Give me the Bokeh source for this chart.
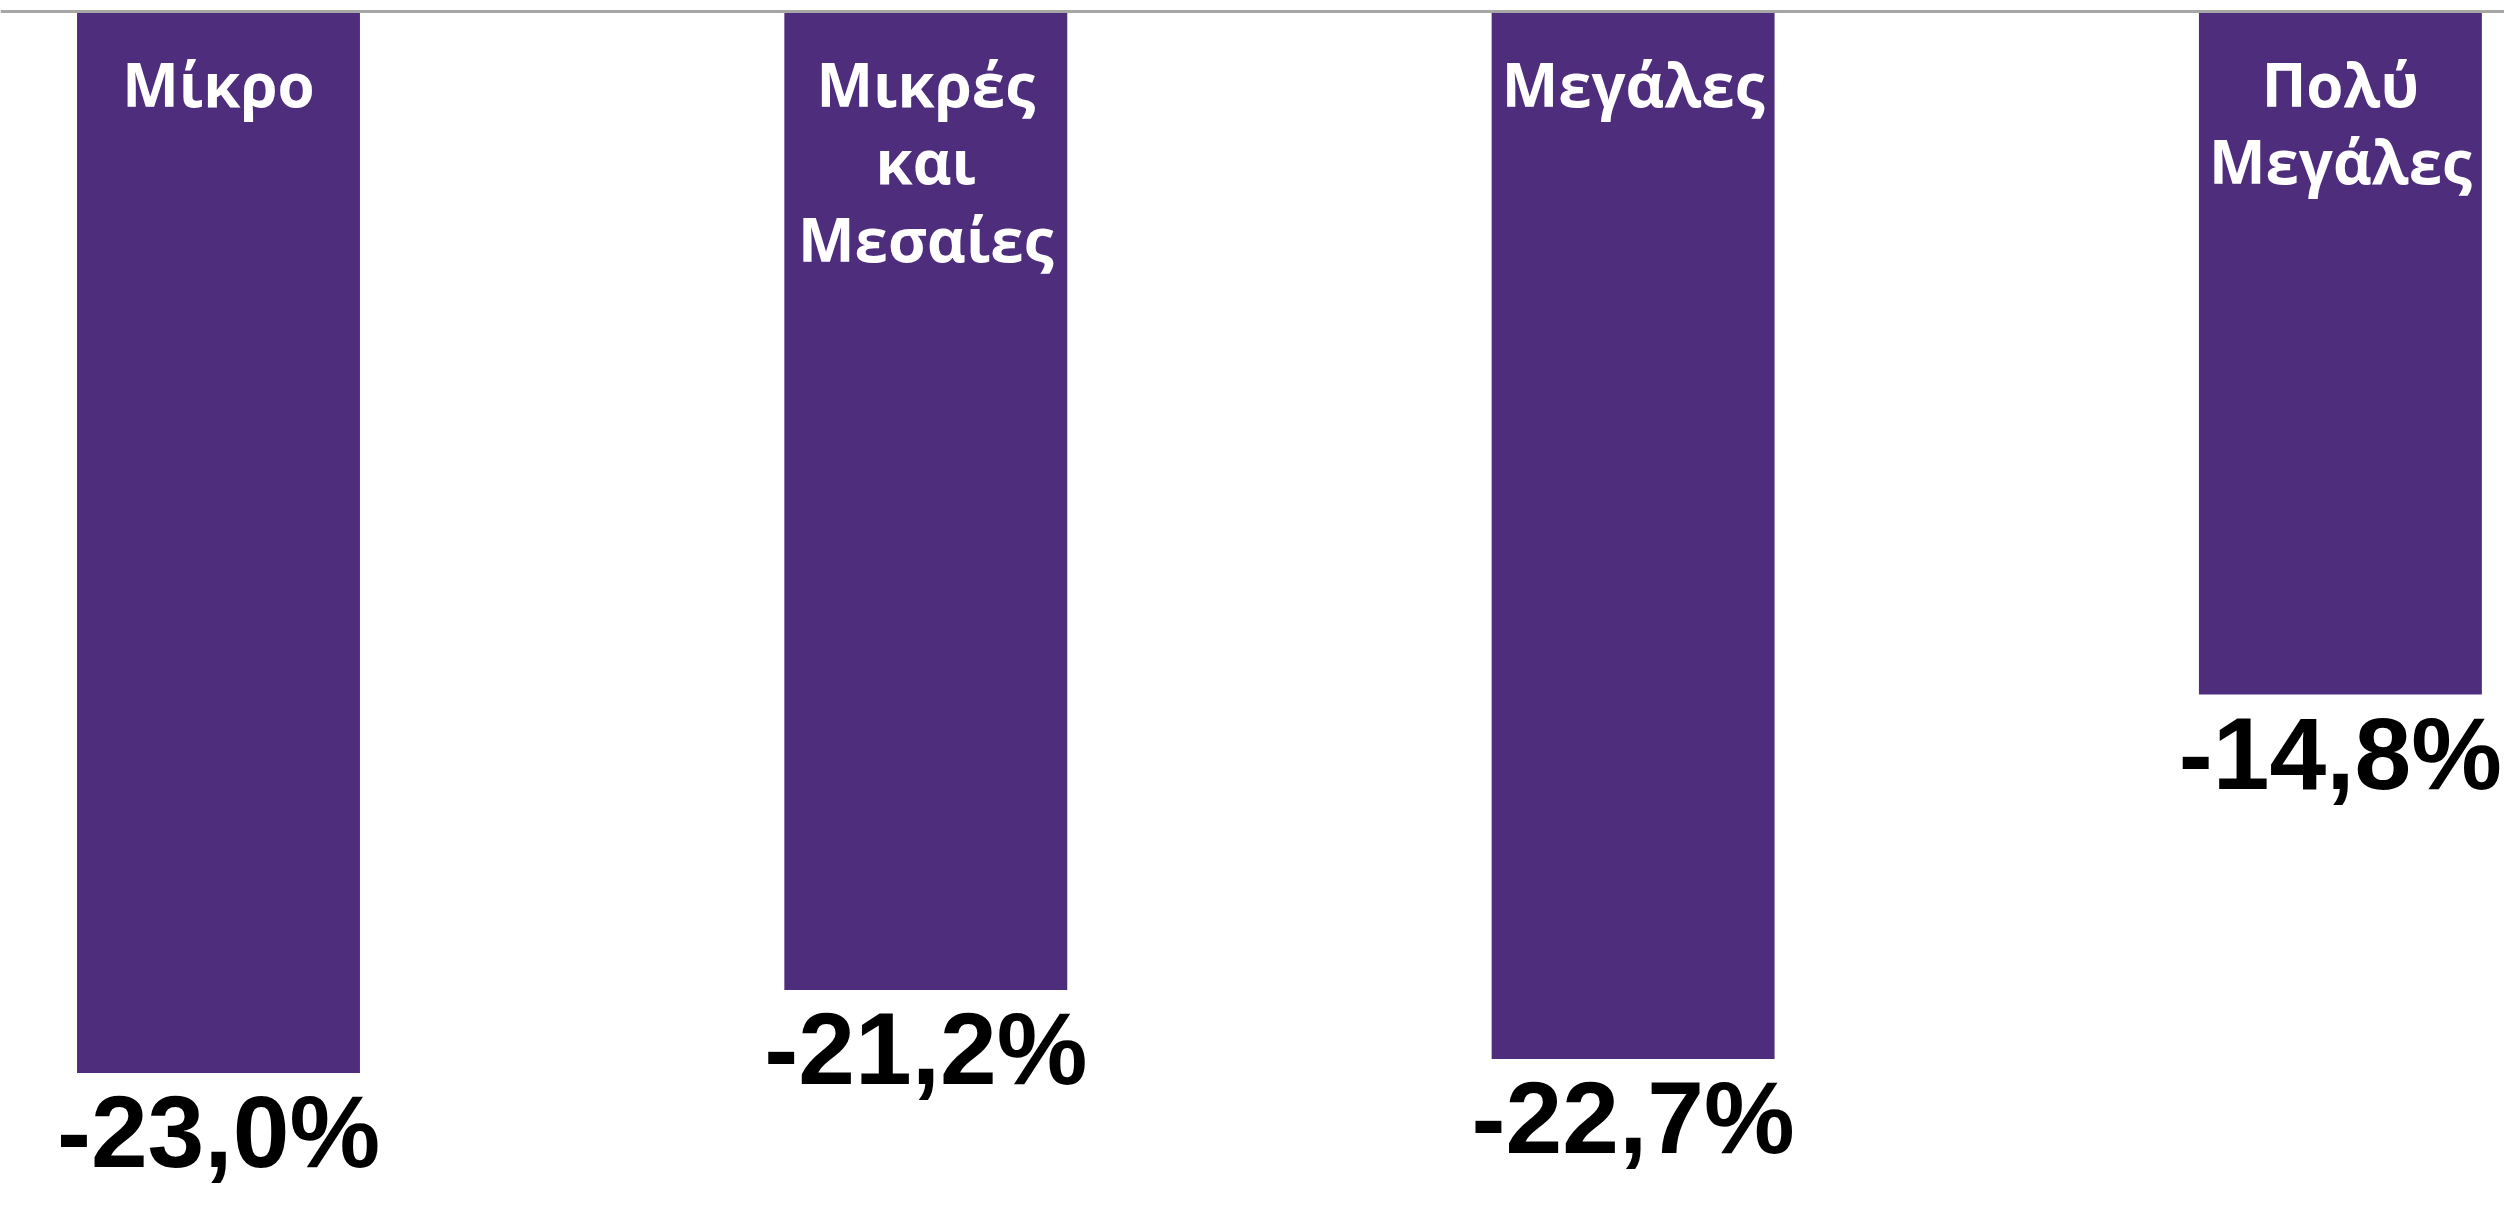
from bokeh.plotting import figure
from bokeh.models import ColumnDataSource, Range1d, Span
from bokeh.core.properties import value
from bokeh.embed import file_html
from bokeh.resources import INLINE

categories = ["Μίκρο", "Μικρές\nκαι\nΜεσαίες", "Μεγάλες", "Πολύ\nΜεγάλες"]
values = [-23.0, -21.2, -22.7, -14.8]
value_labels = ["-23,0%", "-21,2%", "-22,7%", "-14,8%"]

W, H = 2504, 1192
px_per_unit = 46.15
zero_px = 11
spacing = 707.3
first_center = 218

xs = list(range(len(categories)))
src = ColumnDataSource(dict(x=xs, top=[0] * len(xs), bottom=values,
                            cat=categories, lab=value_labels, zero=[0] * len(xs)))

p = figure(width=W, height=H, output_backend="svg", toolbar_location=None,
           x_range=Range1d(-first_center / spacing, (W - first_center) / spacing),
           y_range=Range1d(-(H - zero_px) / px_per_unit, zero_px / px_per_unit),
           min_border=0, background_fill_color="white", border_fill_color="white")
p.outline_line_color = None
p.axis.visible = False
p.grid.visible = False

p.vbar(x="x", top="top", bottom="bottom", width=0.4, source=src,
       fill_color="#4E2D7C", line_color=None)

p.add_layout(Span(location=0, dimension="width", line_color="#A6A6A6", line_width=3))

p.text(x="x", y="zero", text="cat", source=src, text_align="center",
       text_baseline="top", y_offset=31, text_color="white",
       text_font=value("Open Sans"), text_font_style="bold",
       text_font_size="60px", text_line_height=0.95)

p.text(x="x", y="bottom", text="lab", source=src, text_align="center",
       text_baseline="top", y_offset=2, text_color="black",
       text_font=value("Liberation Sans"), text_font_style="bold",
       text_font_size="102px")

open("out.html", "w").write(file_html(p, INLINE))
